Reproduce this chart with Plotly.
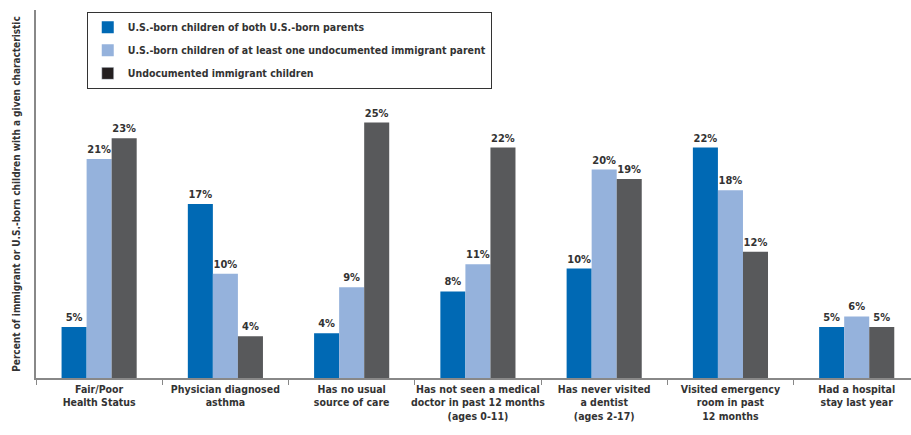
import plotly.graph_objects as go

categories = [
    "Fair/Poor<br>Health Status",
    "Physician diagnosed<br>asthma",
    "Has no usual<br>source of care",
    "Has not seen a medical<br>doctor in past 12 months<br>(ages 0-11)",
    "Has never visited<br>a dentist<br>(ages 2-17)",
    "Visited emergency<br>room in past<br>12 months",
    "Had a hospital<br>stay last year",
]
series_names = [
    "U.S.-born children of both U.S.-born parents",
    "U.S.-born children of at least one undocumented immigrant parent",
    "Undocumented immigrant children",
]
us_born_both = [4.9, 16.7, 4.3, 8.3, 10.5, 22.1, 4.9]
us_born_undoc_parent = [21.0, 10.0, 8.7, 10.9, 20.0, 18.0, 5.9]
undocumented = [23.0, 4.0, 24.5, 22.1, 19.1, 12.1, 4.9]
labels_both = ["5%", "17%", "4%", "8%", "10%", "22%", "5%"]
labels_parent = ["21%", "10%", "9%", "11%", "20%", "18%", "6%"]
labels_undoc = ["23%", "4%", "25%", "22%", "19%", "12%", "5%"]

colors = ["#0069B4", "#95B2DC", "#58595B"]
legend_dark = "#231F20"
FONT = "'DejaVu Sans Condensed', 'Liberation Sans Narrow', 'Arial Narrow', sans-serif"
TXT = "#333333"

fig = go.Figure()
for i, (name, vals, labs, col, show) in enumerate([
    (series_names[0], us_born_both, labels_both, colors[0], True),
    (series_names[1], us_born_undoc_parent, labels_parent, colors[1], True),
    (series_names[2], undocumented, labels_undoc, colors[2], False),
]):
    fig.add_trace(go.Bar(
        x=categories, y=vals, name=name, marker_color=col, marker_line_width=0,
        text=labs, textposition="outside", cliponaxis=False,
        textfont=dict(family=FONT, size=11, color=TXT, weight="bold"),
        showlegend=show, offsetgroup=str(i), legendgroup=str(i),
    ))
fig.add_trace(go.Bar(
    x=[categories[0]], y=[None], name=series_names[2], marker_color=legend_dark,
    showlegend=True, hoverinfo="skip", offsetgroup="2", legendgroup="2",
))

fig.update_layout(
    width=911, height=435,
    margin=dict(l=36, r=0, t=10, b=57),
    paper_bgcolor="white", plot_bgcolor="white",
    barmode="group", bargap=0.405, bargroupgap=0,
    uniformtext=dict(minsize=11, mode="show"),
    font=dict(family=FONT, color=TXT, size=12),
    legend=dict(
        x=0.058, y=0.995, xanchor="left", yanchor="top",
        bordercolor="#333333", borderwidth=1, bgcolor="white",
        font=dict(family=FONT, size=10.5, color=TXT, weight="bold"),
        itemwidth=30, tracegroupgap=4, traceorder="grouped",
    ),
    xaxis=dict(
        range=[-0.5, 6.43], showline=True, linecolor="#888888", linewidth=2,
        ticks="outside", tickson="boundaries", ticklen=5, tickcolor="#888888",
        tickangle=0, automargin=False,
        tickfont=dict(family=FONT, size=10.5, color=TXT, weight="bold"),
        showgrid=False,
    ),
    yaxis=dict(
        range=[0, 35.3], showline=True, linecolor="#888888", linewidth=2,
        showticklabels=False, ticks="", showgrid=False, zeroline=False,
        automargin=False,
        title=dict(
            text="Percent of immigrant or U.S.-born children with a given characteristic",
            font=dict(family=FONT, size=10, color=TXT, weight="bold"),
            standoff=12,
        ),
    ),
)
fig.write_html("out.html")
